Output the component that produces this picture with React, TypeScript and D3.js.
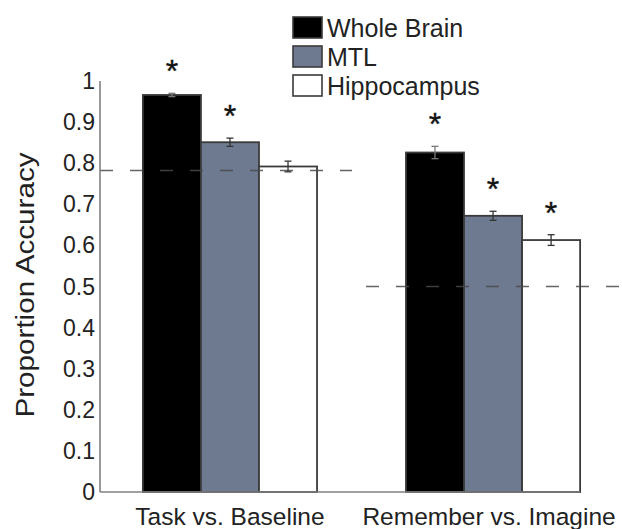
import React from "react";
import * as d3 from "d3";

const groups = ["Task vs. Baseline", "Remember vs. Imagine"];
const series = ["Whole Brain", "MTL", "Hippocampus"];
const values = [
  [0.966, 0.851, 0.792],
  [0.826, 0.672, 0.613],
];
const errors = [
  [0.004, 0.01, 0.013],
  [0.015, 0.011, 0.013],
];
const significant = [
  [true, true, false],
  [true, true, true],
];
const chance = [0.782, 0.5];
const yTicks = [0, 0.1, 0.2, 0.3, 0.4, 0.5, 0.6, 0.7, 0.8, 0.9, 1];
const fills = ["#000000", "#6e7a90", "#ffffff"];

const W = 622;
const H = 529;
const FONT = "'Liberation Sans', Arial, Helvetica, sans-serif";

export default function App() {
  const y = d3.scaleLinear().domain([0, 1]).range([492, 81]);
  const x0 = d3
    .scaleBand<string>()
    .domain(groups)
    .range([100, 623])
    .paddingInner(0.338)
    .paddingOuter(0.163);
  const x1 = d3
    .scaleBand<string>()
    .domain(series)
    .range([0, x0.bandwidth()]);
  const axisX = 100;
  const axisEnd = (x0(groups[1]) ?? 0) + x0.bandwidth();

  return (
    <svg
      width={W}
      height={H}
      style={{ position: "absolute", left: 0, top: 0, background: "#fff" }}
      fontFamily={FONT}
    >
      {/* bars */}
      {groups.map((g, gi) =>
        series.map((s, si) => {
          const bx = (x0(g) ?? 0) + (x1(s) ?? 0);
          const v = values[gi][si];
          return (
            <rect
              key={g + s}
              x={bx}
              y={y(v)}
              width={x1.bandwidth()}
              height={y(0) - y(v)}
              fill={fills[si]}
              stroke="#3a3a3a"
              strokeWidth={1.8}
            />
          );
        })
      )}
      {/* chance lines (on top of bars) */}
      {groups.map((g, gi) => {
        const gx = x0(g) ?? 0;
        const xs = gi === 0 ? axisX : gx - 40;
        const xe = gi === 0 ? gx + x0.bandwidth() + 35 : W;
        return (
          <line
            key={"c" + gi}
            x1={xs}
            x2={xe}
            y1={y(chance[gi])}
            y2={y(chance[gi])}
            stroke="#4a4a4a"
            strokeOpacity={0.85}
            strokeWidth={1.5}
            strokeDasharray="13 17"
          />
        );
      })}
      {/* error bars */}
      {groups.map((g, gi) =>
        series.map((s, si) => {
          const cx = (x0(g) ?? 0) + (x1(s) ?? 0) + x1.bandwidth() / 2;
          const v = values[gi][si];
          const e = errors[gi][si];
          const col = si === 0 ? "#777" : "#333";
          return (
            <g key={"e" + g + s} stroke={col} strokeWidth={1.3}>
              <line x1={cx} x2={cx} y1={y(v + e)} y2={y(v - e)} />
              <line x1={cx - 3.5} x2={cx + 3.5} y1={y(v + e)} y2={y(v + e)} />
              <line x1={cx - 3.5} x2={cx + 3.5} y1={y(v - e)} y2={y(v - e)} />
            </g>
          );
        })
      )}
      {/* significance stars */}
      {groups.map((g, gi) =>
        series.map((s, si) => {
          if (!significant[gi][si]) return null;
          const cx = (x0(g) ?? 0) + (x1(s) ?? 0) + x1.bandwidth() / 2;
          const top = y(values[gi][si] + errors[gi][si]);
          return (
            <text
              key={"s" + g + s}
              x={cx}
              y={top - 11}
              textAnchor="middle"
              fontSize={32}
              fill="#111"
              stroke="#111"
              strokeWidth={0.4}
            >
              *
            </text>
          );
        })
      )}
      {/* axes */}
      <line x1={axisX} x2={axisX} y1={y(1)} y2={y(0)} stroke="#808080" strokeWidth={1.6} />
      <line x1={axisX} x2={axisEnd} y1={y(0)} y2={y(0)} stroke="#808080" strokeWidth={1.6} />
      {yTicks.map((t) => (
        <text
          key={"t" + t}
          x={95}
          y={y(t)}
          dy="0.35em"
          textAnchor="end"
          fontSize={23}
          fill="#222"
        >
          {t === 0 || t === 1 ? String(t) : t.toFixed(1)}
        </text>
      ))}
      {groups.map((g, gi) => (
        <text
          key={"g" + g}
          x={(x0(g) ?? 0) + x0.bandwidth() / 2 - gi * 4}
          y={525}
          textAnchor="middle"
          fontSize={24.5}
          fill="#222"
        >
          {g}
        </text>
      ))}
      <text
        transform={`translate(34, 285) rotate(-90)`}
        textAnchor="middle"
        fontSize={26}
        textLength={265}
        lengthAdjust="spacingAndGlyphs"
        fill="#222"
      >
        Proportion Accuracy
      </text>
      {/* legend */}
      {series.map((s, si) => (
        <g key={"l" + s} transform={`translate(293, ${17 + si * 29})`}>
          <rect
            x={0}
            y={0}
            width={29}
            height={21}
            fill={fills[si]}
            stroke="#3a3a3a"
            strokeWidth={1.6}
          />
          <text x={34} y={10.5} dy="0.36em" fontSize={25} fill="#222">
            {s}
          </text>
        </g>
      ))}
    </svg>
  );
}
